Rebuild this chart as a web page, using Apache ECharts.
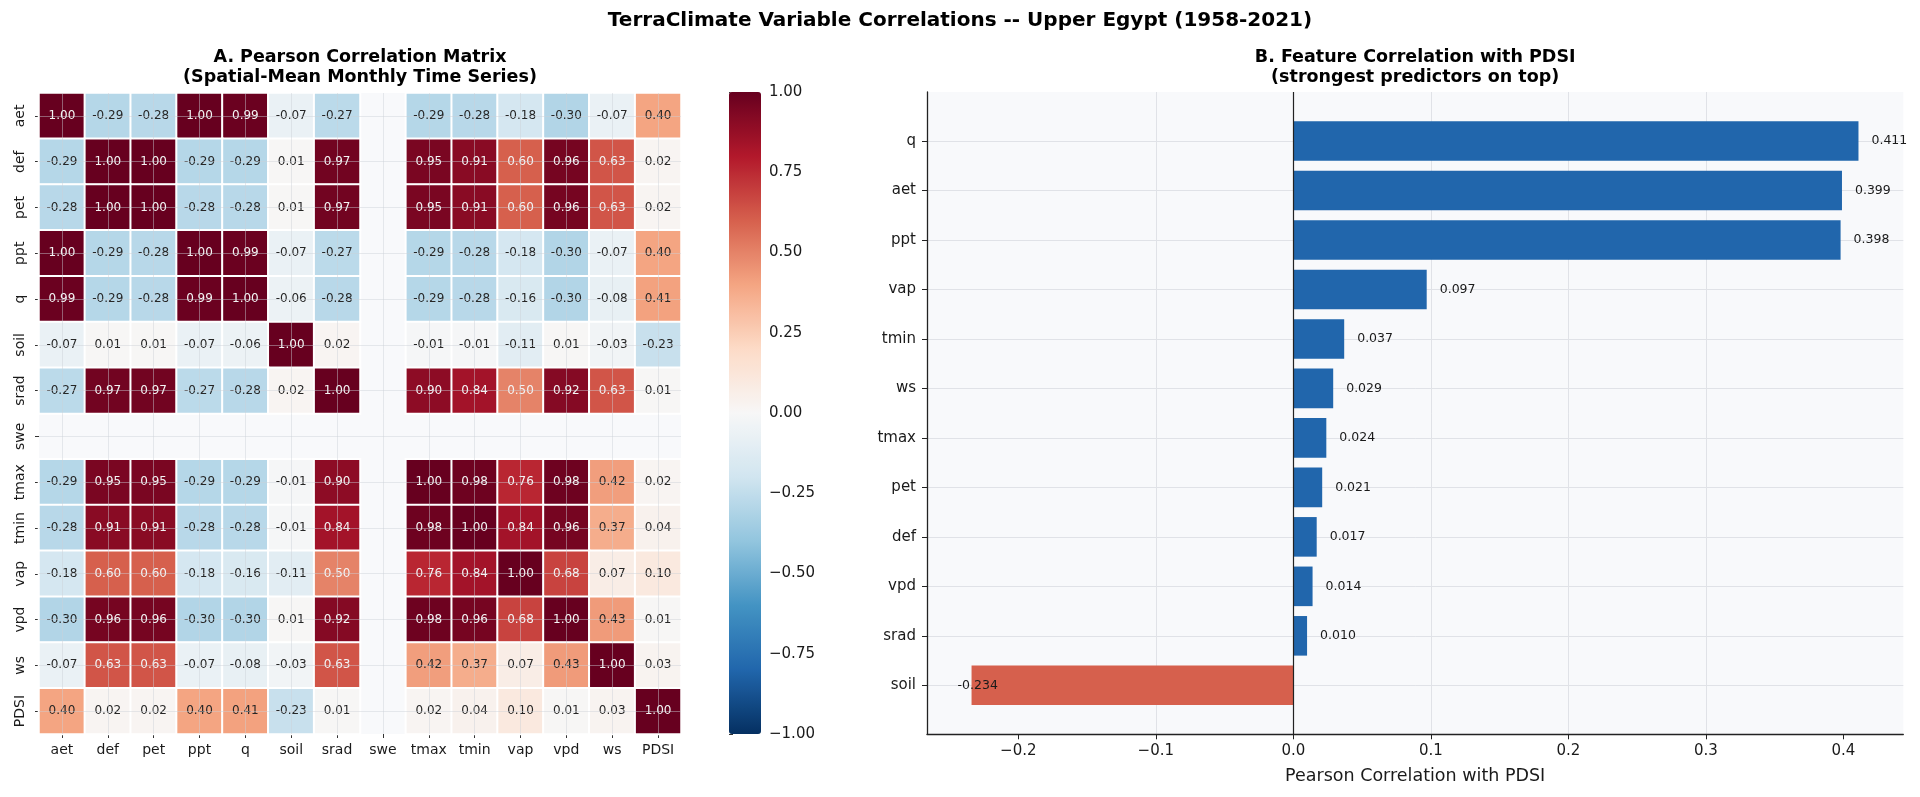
<!DOCTYPE html>
<html><head><meta charset="utf-8">
<script src="https://cdn.jsdelivr.net/npm/echarts@6/dist/echarts.min.js"></script>
<style>html,body{margin:0;padding:0;background:#fff}#c{width:1920px;height:797px}</style>
</head><body><div id="c"></div>
<script>
// ---------- data ----------
const variables = ['aet','def','pet','ppt','q','soil','srad','swe','tmax','tmin','vap','vpd','ws','PDSI'];
const row_aet  = [1.00,-0.29,-0.28,1.00,0.99,-0.07,-0.27,null,-0.29,-0.28,-0.18,-0.30,-0.07,0.40];
const row_def  = [-0.29,1.00,1.00,-0.29,-0.29,0.01,0.97,null,0.95,0.91,0.60,0.96,0.63,0.02];
const row_pet  = [-0.28,1.00,1.00,-0.28,-0.28,0.01,0.97,null,0.95,0.91,0.60,0.96,0.63,0.02];
const row_ppt  = [1.00,-0.29,-0.28,1.00,0.99,-0.07,-0.27,null,-0.29,-0.28,-0.18,-0.30,-0.07,0.40];
const row_q    = [0.99,-0.29,-0.28,0.99,1.00,-0.06,-0.28,null,-0.29,-0.28,-0.16,-0.30,-0.08,0.41];
const row_soil = [-0.07,0.01,0.01,-0.07,-0.06,1.00,0.02,null,-0.01,-0.01,-0.11,0.01,-0.03,-0.23];
const row_srad = [-0.27,0.97,0.97,-0.27,-0.28,0.02,1.00,null,0.90,0.84,0.50,0.92,0.63,0.01];
const row_swe  = [null,null,null,null,null,null,null,null,null,null,null,null,null,null];
const row_tmax = [-0.29,0.95,0.95,-0.29,-0.29,-0.01,0.90,null,1.00,0.98,0.76,0.98,0.42,0.02];
const row_tmin = [-0.28,0.91,0.91,-0.28,-0.28,-0.01,0.84,null,0.98,1.00,0.84,0.96,0.37,0.04];
const row_vap  = [-0.18,0.60,0.60,-0.18,-0.16,-0.11,0.50,null,0.76,0.84,1.00,0.68,0.07,0.10];
const row_vpd  = [-0.30,0.96,0.96,-0.30,-0.30,0.01,0.92,null,0.98,0.96,0.68,1.00,0.43,0.01];
const row_ws   = [-0.07,0.63,0.63,-0.07,-0.08,-0.03,0.63,null,0.42,0.37,0.07,0.43,1.00,0.03];
const row_PDSI = [0.40,0.02,0.02,0.40,0.41,-0.23,0.01,null,0.02,0.04,0.10,0.01,0.03,1.00];

const predictorNames = ['q','aet','ppt','vap','tmin','ws','tmax','pet','def','vpd','srad','soil'];
const pdsiCorr = [0.411,0.399,0.398,0.097,0.037,0.029,0.024,0.021,0.017,0.014,0.010,-0.234];
const barTickValues = [-0.2,-0.1,0.0,0.1,0.2,0.3,0.4];

// ---------- build ----------
const matrix = [row_aet,row_def,row_pet,row_ppt,row_q,row_soil,row_srad,row_swe,row_tmax,row_tmin,row_vap,row_vpd,row_ws,row_PDSI];
const heatData = [];
matrix.forEach((row, r) => row.forEach((v, c) => {
  if (v === null) return;
  heatData.push({value: [c, r, v], label: {color: v >= 0.45 ? '#f4f4f4' : '#262626'}});
}));
const barData = pdsiCorr.map(v => v >= 0
  ? {value: v, itemStyle: {color: '#2166ac'}}
  : {value: v, itemStyle: {color: '#d6604d'},
     label: {position: 'insideLeft', distance: 0, offset: [-14, 0]}});

const RdBu_r = ['#053061','#2166ac','#4393c3','#92c5de','#d1e5f0','#f7f7f7','#fddbc7','#f4a582','#d6604d','#b2182b','#67001f'];
const FONT = '"DejaVu Sans", sans-serif';
const TXT = '#1a1a1a';
const minusFmt = d => v => (v < -1e-9 ? '\u2212' : '') + Math.abs(v).toFixed(d);

const HM = {left: 39, top: 93, width: 642, height: 641};
const cw = HM.width / 14, ch = HM.height / 14;
const FR = {left: 927, top: 92, width: 976.3, height: 642.3};
const unit = FR.height / 12.98;
const X_MIN = -0.2664, X_MAX = 0.4436;

const chart = echarts.init(document.getElementById('c'), null, {renderer: 'canvas'});
chart.setOption({
  animation: false,
  backgroundColor: '#ffffff',
  textStyle: {fontFamily: FONT, color: TXT},
  grid: [
    {left: HM.left, top: HM.top, width: HM.width, height: HM.height, show: true, backgroundColor: '#f8f9fb', borderWidth: 0},
    {left: HM.left + cw/2, top: HM.top, width: HM.width - cw, height: HM.height},
    {left: HM.left, top: HM.top + ch/2, width: HM.width, height: HM.height - ch},
    {left: 729, top: 92, width: 32, height: 642},
    {left: FR.left, top: FR.top, width: FR.width, height: FR.height, show: true, backgroundColor: '#f8f9fb', borderWidth: 0},
    {left: FR.left, top: FR.top + 0.49*unit, width: FR.width, height: 12*unit},
    {left: FR.left, top: FR.top + 0.99*unit, width: FR.width, height: 11*unit}
  ],
  xAxis: [
    {gridIndex: 0, type: 'category', data: variables, position: 'bottom',
     axisLine: {show: false}, axisTick: {show: true, alignWithLabel: true, length: 4, lineStyle: {color: '#333'}},
     axisLabel: {fontSize: 14, color: TXT, margin: 9, interval: 0}, splitLine: {show: false}},
    {gridIndex: 1, type: 'value', min: 0, max: 13, interval: 1, z: 5,
     axisLine: {show: false}, axisTick: {show: false}, axisLabel: {show: false},
     splitLine: {show: true, lineStyle: {color: 'rgba(205,208,214,0.45)', width: 1}}},
    {gridIndex: 2, type: 'value', show: false, min: 0, max: 1},
    {gridIndex: 3, type: 'value', show: false, min: 0, max: 1},
    {gridIndex: 4, type: 'value', min: X_MIN, max: X_MAX, splitNumber: 5,
     axisLine: {show: true, onZero: false, lineStyle: {color: '#222', width: 1.3}},
     axisTick: {show: true, length: 5, lineStyle: {color: '#222'}, customValues: barTickValues},
     axisLabel: {fontSize: 15, color: TXT, margin: 9, customValues: barTickValues, formatter: minusFmt(1)},
     splitLine: {show: true, showMinLine: false, showMaxLine: false, lineStyle: {color: '#e0e2e7', width: 1}}},
    {gridIndex: 5, type: 'value', show: false, min: X_MIN, max: X_MAX},
    {gridIndex: 6, type: 'value', show: false, min: 0, max: 1}
  ],
  yAxis: [
    {gridIndex: 0, type: 'category', data: variables, inverse: true,
     axisLine: {show: false}, axisTick: {show: true, alignWithLabel: true, length: 4, lineStyle: {color: '#333'}},
     axisLabel: {fontSize: 14, color: TXT, rotate: 90, margin: 12, interval: 0}, splitLine: {show: false}},
    {gridIndex: 1, type: 'value', show: false, min: 0, max: 1},
    {gridIndex: 2, type: 'value', min: 0, max: 13, interval: 1, z: 5,
     axisLine: {show: false}, axisTick: {show: false}, axisLabel: {show: false},
     splitLine: {show: true, lineStyle: {color: 'rgba(205,208,214,0.45)', width: 1}}},
    {gridIndex: 3, type: 'value', min: -1, max: 1, interval: 0.25, position: 'right',
     axisLine: {show: false}, axisTick: {show: true, length: 4, lineStyle: {color: '#333'}},
     axisLabel: {fontSize: 15, color: TXT, margin: 8, formatter: minusFmt(2)}, splitLine: {show: false}},
    {gridIndex: 4, type: 'value', min: 0, max: 1,
     axisLine: {show: true, onZero: false, lineStyle: {color: '#222', width: 1.3}},
     axisTick: {show: false}, axisLabel: {show: false}, splitLine: {show: false}},
    {gridIndex: 5, type: 'category', data: predictorNames, inverse: true, position: 'left',
     axisLine: {show: false, onZero: false}, axisTick: {show: true, alignWithLabel: true, length: 5, lineStyle: {color: '#222'}},
     axisLabel: {fontSize: 15, color: TXT, margin: 11, interval: 0},
     splitLine: {show: false}},
    {gridIndex: 6, type: 'value', min: 0, max: 11, interval: 1,
     axisLine: {show: false, onZero: false}, axisTick: {show: false}, axisLabel: {show: false},
     splitLine: {show: true, lineStyle: {color: '#e0e2e7', width: 1}}}
  ],
  visualMap: {
    type: 'continuous', min: -1, max: 1, seriesIndex: 0, calculable: false, show: true,
    orient: 'vertical', left: 729, top: 92, itemWidth: 32, itemHeight: 642, padding: 0,
    inRange: {color: RdBu_r}, text: null, textStyle: {fontSize: 0}
  },
  series: [
    {type: 'heatmap', xAxisIndex: 0, yAxisIndex: 0, data: heatData,
     itemStyle: {borderColor: '#ffffff', borderWidth: 2},
     label: {show: true, fontSize: 12, fontFamily: FONT, formatter: p => p.value[2].toFixed(2)},
     emphasis: {disabled: true}},
    {type: 'bar', xAxisIndex: 5, yAxisIndex: 5, data: barData, barCategoryGap: '20%',
     label: {show: true, position: 'right', distance: 13, fontSize: 12.5, color: TXT, fontFamily: FONT,
             formatter: p => p.value.toFixed(3)},
     emphasis: {disabled: true}},
    {type: 'line', xAxisIndex: 4, yAxisIndex: 4, data: [], silent: true,
     markLine: {silent: true, symbol: 'none', animation: false, label: {show: false},
                lineStyle: {color: '#222', width: 1.2, type: 'solid'}, data: [{xAxis: 0}]}}
  ],
  graphic: [
    {type: 'text', x: 960, y: 21, style: {text: 'TerraClimate Variable Correlations -- Upper Egypt (1958-2021)', font: 'bold 20px ' + FONT, fill: '#000', textAlign: 'center', textVerticalAlign: 'middle'}},
    {type: 'text', x: HM.left + HM.width/2, y: 57, style: {text: 'A. Pearson Correlation Matrix', font: 'bold 17.5px ' + FONT, fill: '#000', textAlign: 'center', textVerticalAlign: 'middle'}},
    {type: 'text', x: HM.left + HM.width/2, y: 77, style: {text: '(Spatial-Mean Monthly Time Series)', font: 'bold 17.5px ' + FONT, fill: '#000', textAlign: 'center', textVerticalAlign: 'middle'}},
    {type: 'text', x: FR.left + FR.width/2, y: 57, style: {text: 'B. Feature Correlation with PDSI', font: 'bold 17.5px ' + FONT, fill: '#000', textAlign: 'center', textVerticalAlign: 'middle'}},
    {type: 'text', x: FR.left + FR.width/2, y: 77, style: {text: '(strongest predictors on top)', font: 'bold 17.5px ' + FONT, fill: '#000', textAlign: 'center', textVerticalAlign: 'middle'}},
    {type: 'text', x: FR.left + FR.width/2, y: 776, style: {text: 'Pearson Correlation with PDSI', font: '17.5px ' + FONT, fill: TXT, textAlign: 'center', textVerticalAlign: 'middle'}}
  ]
});
</script></body></html>
